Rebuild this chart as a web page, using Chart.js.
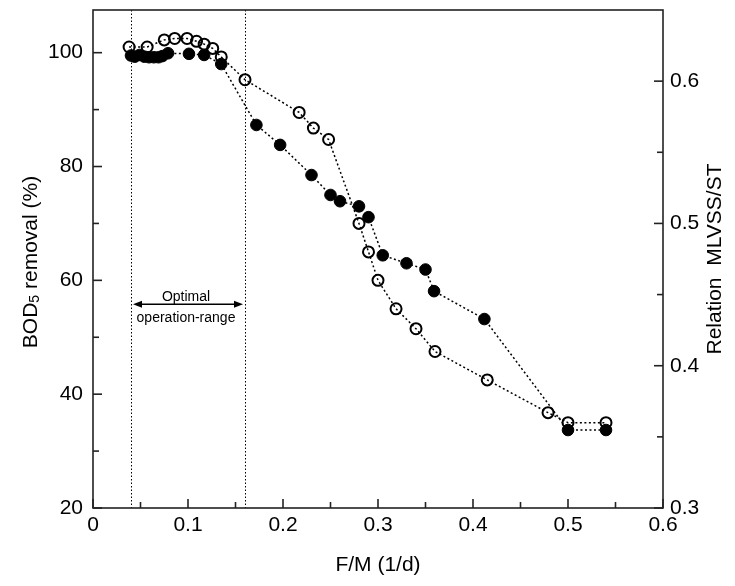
<!DOCTYPE html>
<html>
<head>
<meta charset="utf-8">
<script src="https://cdn.jsdelivr.net/npm/chart.js@4.4.1/dist/chart.umd.min.js"></script>
<style>
  html, body { margin: 0; padding: 0; background: #fff; }
  #wrap { width: 735px; height: 586px; }
</style>
</head>
<body>
<div id="wrap"><canvas id="chart" width="735" height="586"></canvas></div>
<script>
// BOD5 removal (%) - filled circles, left axis
const removalX = [0.040, 0.044, 0.049, 0.054, 0.059, 0.064, 0.069, 0.073, 0.079, 0.101, 0.117, 0.135,
                  0.172, 0.197, 0.230, 0.250, 0.260, 0.280, 0.290, 0.305, 0.330, 0.350, 0.359, 0.412, 0.500, 0.540];
const removalY = [99.5, 99.3, 99.6, 99.3, 99.2, 99.2, 99.2, 99.4, 99.9, 99.8, 99.6, 98.0,
                  87.3, 83.8, 78.5, 75.0, 73.9, 73.0, 71.1, 64.4, 63.0, 61.9, 58.1, 53.2, 33.7, 33.7];

// Relation MLVSS/ST - open circles, right axis
const ratioX = [0.038, 0.057, 0.075, 0.086, 0.099, 0.109, 0.117, 0.126, 0.135, 0.160, 0.217, 0.232,
                0.248, 0.280, 0.290, 0.300, 0.319, 0.340, 0.360, 0.415, 0.479, 0.500, 0.540];
const ratioY = [0.624, 0.624, 0.629, 0.630, 0.630, 0.628, 0.626, 0.623, 0.617, 0.601, 0.578, 0.567,
                0.559, 0.500, 0.480, 0.460, 0.440, 0.426, 0.410, 0.390, 0.367, 0.360, 0.360];

const xTicks = [0, 0.1, 0.2, 0.3, 0.4, 0.5, 0.6];
const xMinor = [0.05, 0.15, 0.25, 0.35, 0.45, 0.55];
const leftTicks = [20, 40, 60, 80, 100];
const leftMinor = [30, 50, 70, 90];
const rightTicks = [0.3, 0.4, 0.5, 0.6];
const rightMinor = [0.35, 0.45, 0.55];
const rangeLimits = [0.04, 0.16];   // optimal operation range (dotted lines)

const FONT = '"Liberation Sans", Arial, sans-serif';

function toPoints(xs, ys) {
  return xs.map((x, i) => ({ x: x, y: ys[i] }));
}

// sin relleno extra alrededor de los ejes
function noPad(s) {
  s.paddingTop = 0;
  s.paddingBottom = 0;
  s.paddingLeft = 0;
  s.paddingRight = 0;
}

// marco, marcas hacia dentro, rango óptimo y títulos
const framePlugin = {
  id: 'framePlugin',
  beforeDatasetsDraw(chart) {
    const { ctx, chartArea: a, scales } = chart;
    const sx = scales.x, yl = scales.y, yr = scales.y2;
    ctx.save();

    // dotted range lines
    ctx.strokeStyle = '#000';
    ctx.lineWidth = 1;
    ctx.setLineDash([1.5, 2]);
    rangeLimits.forEach(v => {
      const px = Math.round(sx.getPixelForValue(v)) + 0.5;
      ctx.beginPath();
      ctx.moveTo(px, a.top);
      ctx.lineTo(px, a.bottom);
      ctx.stroke();
    });
    ctx.setLineDash([]);

    // double arrow + label
    const x1 = sx.getPixelForValue(rangeLimits[0]) + 2;
    const x2 = sx.getPixelForValue(rangeLimits[1]) - 2;
    const ay = yl.getPixelForValue(55.8);
    ctx.lineWidth = 1.5;
    ctx.beginPath();
    ctx.moveTo(x1 + 6, ay);
    ctx.lineTo(x2 - 6, ay);
    ctx.stroke();
    ctx.fillStyle = '#000';
    ctx.beginPath();
    ctx.moveTo(x1, ay); ctx.lineTo(x1 + 9, ay - 3.5); ctx.lineTo(x1 + 9, ay + 3.5); ctx.closePath();
    ctx.fill();
    ctx.beginPath();
    ctx.moveTo(x2, ay); ctx.lineTo(x2 - 9, ay - 3.5); ctx.lineTo(x2 - 9, ay + 3.5); ctx.closePath();
    ctx.fill();
    ctx.font = '14px ' + FONT;
    ctx.textAlign = 'center';
    ctx.textBaseline = 'middle';
    const cx = (x1 + x2) / 2 - 2;
    ctx.fillText('Optimal', cx, ay - 7);
    ctx.fillText('operation-range', cx, ay + 14);

    // frame
    ctx.strokeStyle = '#222';
    ctx.lineWidth = 1.6;
    ctx.strokeRect(a.left, a.top, a.right - a.left, a.bottom - a.top);

    // inward ticks
    const line = (xa, ya, xb, yb) => {
      ctx.beginPath(); ctx.moveTo(xa, ya); ctx.lineTo(xb, yb); ctx.stroke();
    };
    xTicks.forEach(v => { const p = sx.getPixelForValue(v); line(p, a.bottom, p, a.bottom - 9); });
    xMinor.forEach(v => { const p = sx.getPixelForValue(v); line(p, a.bottom, p, a.bottom - 6); });
    leftTicks.forEach(v => { const p = yl.getPixelForValue(v); line(a.left, p, a.left + 9, p); });
    leftMinor.forEach(v => { const p = yl.getPixelForValue(v); line(a.left, p, a.left + 6, p); });
    rightTicks.forEach(v => { const p = yr.getPixelForValue(v); line(a.right, p, a.right - 9, p); });
    rightMinor.forEach(v => { const p = yr.getPixelForValue(v); line(a.right, p, a.right - 6, p); });
    ctx.restore();
  },
  afterDraw(chart) {
    const { ctx, chartArea: a } = chart;
    const midY = (a.top + a.bottom) / 2;
    ctx.save();
    ctx.fillStyle = '#000';
    ctx.textBaseline = 'middle';

    // x title
    ctx.font = '21px ' + FONT;
    ctx.textAlign = 'center';
    ctx.fillText('F/M (1/d)', (a.left + a.right) / 2, 565);

    // left title with subscript 5
    ctx.save();
    ctx.translate(31, midY + 3);
    ctx.rotate(-Math.PI / 2);
    const parts = [['BOD', 21, 0], ['5', 14, 4], [' removal (%)', 21, 0]];
    let total = 0;
    parts.forEach(p => { ctx.font = p[1] + 'px ' + FONT; total += ctx.measureText(p[0]).width; });
    let px = -total / 2;
    ctx.textAlign = 'left';
    parts.forEach(p => {
      ctx.font = p[1] + 'px ' + FONT;
      ctx.fillText(p[0], px, p[2]);
      px += ctx.measureText(p[0]).width;
    });
    ctx.restore();

    // right title
    ctx.save();
    ctx.translate(715, midY);
    ctx.rotate(-Math.PI / 2);
    ctx.font = '21px ' + FONT;
    ctx.textAlign = 'center';
    ctx.fillText('Relation  MLVSS/ST', 0, 0);
    ctx.restore();
    ctx.restore();
  }
};

const ctx = document.getElementById('chart').getContext('2d');
new Chart(ctx, {
  type: 'scatter',
  data: {
    datasets: [
      {
        label: 'BOD5 removal (%)',
        data: toPoints(removalX, removalY),
        yAxisID: 'y',
        showLine: true,
        borderColor: '#000',
        borderWidth: 1.5,
        borderDash: [2, 2.5],
        pointRadius: 5.8,
        pointBorderWidth: 1,
        pointBackgroundColor: '#000',
        pointBorderColor: '#000'
      },
      {
        label: 'Relation MLVSS/ST',
        data: toPoints(ratioX, ratioY),
        yAxisID: 'y2',
        showLine: true,
        borderColor: '#000',
        borderWidth: 1.5,
        borderDash: [2, 2.5],
        pointRadius: 5.5,
        pointBorderWidth: 2,
        pointBackgroundColor: 'rgba(0,0,0,0)',
        pointBorderColor: '#000'
      }
    ]
  },
  options: {
    responsive: false,
    devicePixelRatio: 1,
    animation: false,
    layout: { padding: { top: 10, left: 0, right: 0, bottom: 0 } },
    plugins: {
      legend: { display: false },
      tooltip: { enabled: false }
    },
    scales: {
      x: {
        type: 'linear',
        min: 0,
        max: 0.6,
        grid: { display: false, drawTicks: false },
        border: { display: false },
        afterBuildTicks: s => { s.ticks = xTicks.map(v => ({ value: v })); },
        afterFit: s => { s.height = 78; noPad(s); },
        ticks: {
          padding: 5,
          color: '#000',
          font: { family: FONT, size: 21 },
          callback: v => String(v)
        }
      },
      y: {
        type: 'linear',
        position: 'left',
        min: 20,
        max: 107.5,
        grid: { display: false, drawTicks: false },
        border: { display: false },
        afterBuildTicks: s => { s.ticks = leftTicks.map(v => ({ value: v })); },
        afterFit: s => { s.width = 93; noPad(s); },
        ticks: {
          padding: 10,
          color: '#000',
          font: { family: FONT, size: 21 },
          callback: v => String(v)
        }
      },
      y2: {
        type: 'linear',
        position: 'right',
        min: 0.3,
        max: 0.65,
        grid: { display: false, drawTicks: false },
        border: { display: false },
        afterBuildTicks: s => { s.ticks = rightTicks.map(v => ({ value: v })); },
        afterFit: s => { s.width = 72; noPad(s); },
        ticks: {
          padding: 7,
          color: '#000',
          font: { family: FONT, size: 21 },
          callback: v => String(v)
        }
      }
    }
  },
  plugins: [framePlugin]
});
</script>
</body>
</html>
